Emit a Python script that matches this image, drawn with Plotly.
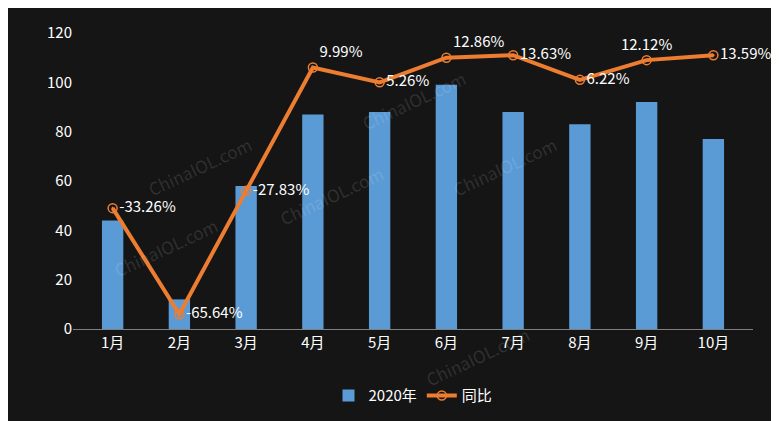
import plotly.graph_objects as go

months = ["1月","2月","3月","4月","5月","6月","7月","8月","9月","10月"]
bars_2020 = [44, 12, 58, 87, 88, 99, 88, 83, 92, 77]
yoy_pos = [49, 6, 56, 106, 100, 110, 111, 101, 109, 111]
yoy_labels = ["-33.26%","-65.64%","-27.83%","9.99%","5.26%","12.86%","13.63%","6.22%","12.12%","13.59%"]
label_pos = ["middle right","middle right","middle right","top right","middle right",
             "top right","middle right","middle right","top center","middle right"]

fig = go.Figure()
fig.add_trace(go.Bar(x=months, y=bars_2020, name="2020年", width=0.32,
                     marker=dict(color="#5b9bd5", line=dict(width=0))))
fig.add_trace(go.Scatter(x=months, y=yoy_pos, name="同比", mode="lines+markers+text",
                         line=dict(color="#ed7d31", width=4),
                         marker=dict(size=9, color="#ed7d31", line=dict(color="#f4b183", width=1.5),
                                     symbol="circle-open-dot"),
                         text=yoy_labels, textposition=label_pos, cliponaxis=False,
                         textfont=dict(color="white", size=15)))

for (x, y) in [(0.1, 0.55), (0.05, 0.15), (0.38, 0.45), (0.5, 0.9), (0.72, 0.55), (0.68, -0.22)]:
    fig.add_annotation(xref="paper", yref="paper", x=x, y=y, text="ChinaIOL.com",
                       showarrow=False, textangle=-25,
                       font=dict(color="rgba(255,255,255,0.12)", size=17))

fig.update_layout(
    width=779, height=421, paper_bgcolor="#151515", plot_bgcolor="#151515",
    margin=dict(l=65, r=34, t=25, b=100),
    font=dict(family="Noto Sans CJK SC", color="white", size=15),
    bargap=0.6,
    legend=dict(orientation="h", x=0.5, xanchor="center", y=-0.17, yanchor="top",
                font=dict(size=15, color="white")),
    xaxis=dict(showgrid=False, showline=True, linecolor="#808080", linewidth=1,
               tickfont=dict(size=15, color="white")),
    yaxis=dict(range=[0, 120], dtick=20, showgrid=False, zeroline=False,
               tickfont=dict(size=15, color="white")),
)
fig.write_html("out.html")
